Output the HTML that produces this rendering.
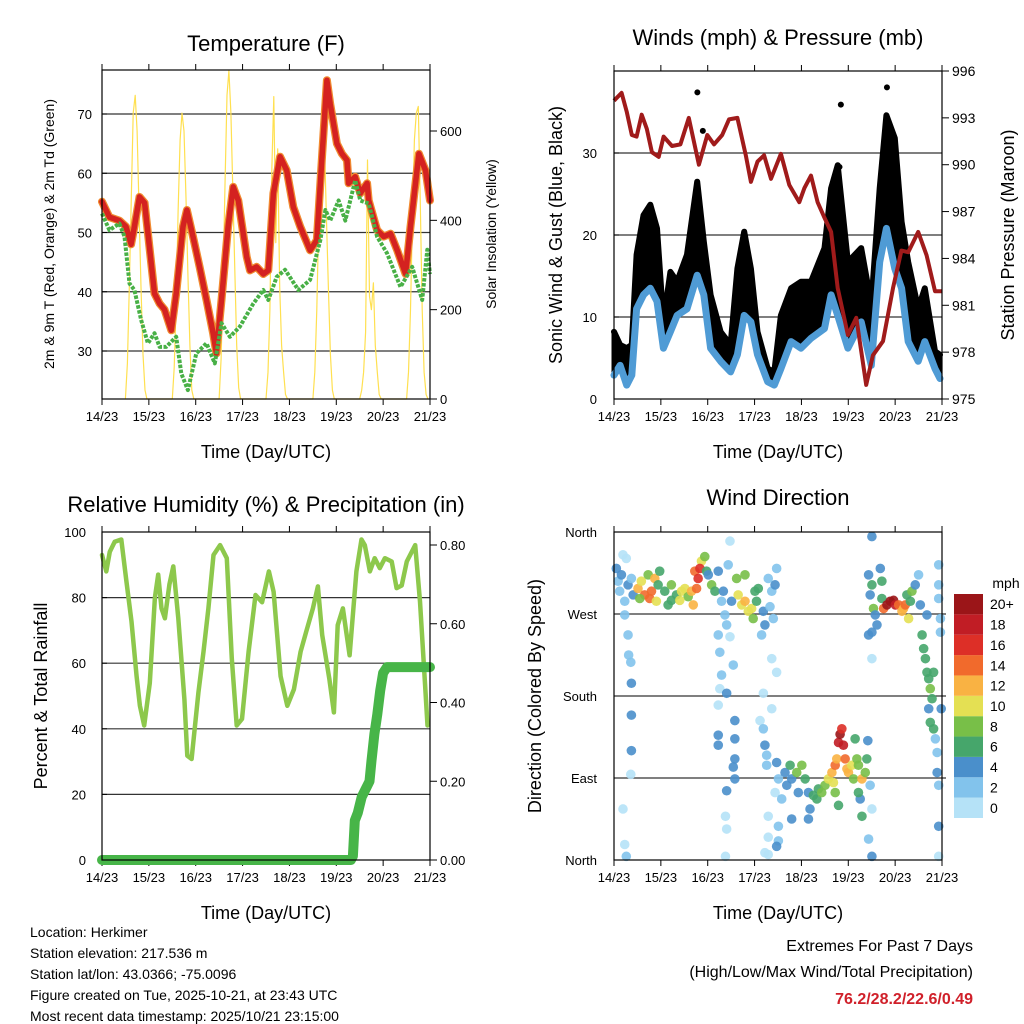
<!DOCTYPE html>
<html><head><meta charset="utf-8"><style>
html,body{margin:0;padding:0;background:#fff;}
svg{display:block;font-family:"Liberation Sans",sans-serif;}
</style></head><body>
<svg id="chart" width="1024" height="1024" viewBox="0 0 1024 1024" xmlns="http://www.w3.org/2000/svg">
<rect x="0" y="0" width="1024" height="1024" fill="#fff"/>
<g id="g"></g>
<text x="30" y="937" font-size="14">Location: Herkimer</text>
<text x="30" y="958" font-size="14">Station elevation: 217.536 m</text>
<text x="30" y="979" font-size="14">Station lat/lon: 43.0366; -75.0096</text>
<text x="30" y="1000" font-size="14">Figure created on Tue, 2025-10-21, at 23:43 UTC</text>
<text x="30" y="1021" font-size="14">Most recent data timestamp: 2025/10/21 23:15:00</text>
<text x="973" y="951" font-size="16" text-anchor="end">Extremes For Past 7 Days</text>
<text x="973" y="977" font-size="16" text-anchor="end">(High/Low/Max Wind/Total Precipitation)</text>
<text x="973" y="1004" font-size="16" font-weight="bold" fill="#d0202a" text-anchor="end">76.2/28.2/22.6/0.49</text>
</svg>
<script>
// ---------- data ----------
const dayLabels = ["14/23","15/23","16/23","17/23","18/23","19/23","20/23","21/23"];
const tempHours = [0,3.8,8.9,12.3,14.9,16.6,19.2,21.8,24.3,26.9,29.5,32,35.5,38,41.5,43.5,46.6,50,53.5,56.9,58.6,61.2,64.6,67.2,69.8,74.1,75.8,79.2,82.6,85.2,87.8,91.2,94.6,98,101.5,106.6,110,112.6,115.2,116.9,120.3,122.9,125.5,126.3,129.7,132.3,135.8,136.6,140.9,144.3,147.8,151.2,155.5,158,162.3,165.7,168];
const tempF = [55.2,52.6,52,51,48,51,56,55,47.6,39.7,38,37,33.5,39.7,51,53.8,49.3,44.2,38.6,33,29.6,38.6,51,57.7,55.4,45.9,43.6,44.2,43,43.6,56.6,62.8,60.5,54.3,51,47,48.7,62.2,75.7,71.7,65,63.3,62.2,58.3,59.4,56.6,58.3,55.4,50.4,49.3,49.8,47,43,51,63.3,60.5,55.4];
const dewHours = [0,3.8,8.9,11.5,14.1,16.6,20.1,23.5,26.9,29.5,32.9,38,40.6,44,48.3,53.5,57.8,61.2,65.5,70.6,77.5,82.6,85.2,89.5,93.8,100.6,106.6,111.8,114.4,116.9,121.2,124.6,129.7,132.3,136.6,140.9,146,152.9,158.9,164,166.6,168];
const dewF = [53.2,50.4,51.5,49.3,41.4,40.3,35.2,31.3,33,30.7,30.7,32.4,26.2,23.4,29.6,31.3,27.9,34.7,32.4,34.1,38,40.3,38.6,42.5,43.7,40.3,42,48.7,53.8,52,55.4,52,58.8,55.4,54.9,49.3,46.5,40.8,44.2,38.6,47.1,43];
const solarHours = [];
const solarDays = [
 [0,80,250,450,640,680,600,420,250,100,20,0],
 [0,70,220,420,580,640,600,450,280,120,20,0],
 [0,90,260,480,680,735,640,470,290,120,25,0],
 [0,60,200,520,677,350,560,250,120,60,10,0],
 [0,60,200,400,560,617,560,400,240,100,20,0],
 [0,20,60,150,535,230,200,260,120,60,10,0],
 [0,60,200,400,580,640,655,450,200,60,10,0]];
const windHours = [0,3.1,6.5,9.1,11.6,15.1,18.6,22,25.3,28.9,32.3,37.4,42.6,46,49.5,54.6,59.7,63.2,66.7,70.1,73.5,78.7,82.1,85.5,90.7,95.8,100.9,107.8,111.2,114.6,119.8,126.6,131.8,136.1,139.5,143.8,147.3,150.7,155.8,159.2,164.4,167]; 
const windMph = [2.9,4.1,1.7,2.9,11,12.7,13.5,11.9,6.2,8.2,10.2,11,15.1,12.7,6.2,4.6,3.3,5.4,10.2,9.4,5.4,2.1,1.7,3.7,7,6.2,7.4,8.6,12.7,10.2,6.2,9.4,4.1,16.7,20.8,15.9,13.5,7,4.6,7,3.7,2.5];
const gustMph = [8.2,6.6,6.2,6.6,17.6,22.4,23.7,20.8,9.4,15.5,14.3,17.6,26.5,19.2,12.7,8.2,6.6,15.9,20.4,15.9,8.2,3.7,3.3,10.2,13.5,14.3,14.3,18.4,25.7,28.5,16.7,18.4,11.5,25.7,34.6,31.8,21.6,16.7,11,13.5,5.8,5.4];
const gustOutlierHours = [42.7,45.5,116.2,139.8,115.5,141];
const gustOutlierMph = [37.4,32.7,35.9,38,28.3,33];
const presHours = [0,3.9,6.5,9.1,11.6,14.2,16.8,19.4,22.9,25.4,29.7,34,38.3,43.5,47.8,51.2,55.4,58.9,63.2,67.5,70.1,73.5,76.9,80.4,85.5,89.8,94.9,97.5,100.9,104.3,107.8,111.2,114.6,119.8,124.1,129.2,132.6,137.8,142.9,147.2,150.7,155.8,160.1,164.4,167.8];
const presMb = [994.1,994.6,993.4,991.9,991.8,993.2,992.3,990.8,990.5,991.8,991.2,991.3,993,990,991.9,991.3,991.9,992.9,993,990.6,988.9,990.2,990.6,989.1,990.7,988.7,987.6,988.5,989.3,987.6,986.6,985.7,982.1,979.1,980.2,975.9,977.8,978.7,982.1,984.5,984.4,985.7,984.2,981.9,981.9];
const rhHours = [0,2.2,4,6.5,9.9,12.5,15.1,17.7,19.4,21.6,24.5,27.1,28.8,30.5,32.2,34.5,36.5,39.1,42.2,43.7,45.9,49.4,52,54.5,57.1,60.5,63.9,66.5,69,71.7,75.1,78.6,82,85.5,87.9,91.5,94.9,98.3,101.7,104.6,108,110.6,112.8,116.4,118.8,120.7,123.4,126.8,130.3,132.9,134.6,137.2,139.7,142.3,144.9,148.4,150.9,153.5,156.1,160.4,162.9,165.5,166.7];
const rhPct = [93,88,94,97,97.7,85,72.7,56,47,41,54,80,87,76.7,73.7,84,89.5,73.7,49,31.8,30.8,51,63.5,76.7,93,96,92,61.4,41,43,63.5,80.8,78.6,88,81.8,56,47,52,63.5,69.6,76.7,83.4,68.6,55.3,45,71.6,76.7,62.4,88,97.7,96,88,92,89,92,91,82.9,83.7,91,96,78.8,53.3,41,56.3,76.7];
const precipHours = [0,127.5,128.5,129.5,131,133,135,137,138,139.5,141,142.5,144,146,168];
const precipIn = [0,0,0.01,0.1,0.12,0.16,0.18,0.2,0.25,0.32,0.37,0.43,0.475,0.49,0.49];
const dirHours = [1.2,2.1,2.9,3.8,4.6,5.5,6.3,7.2,8.9,9.8,5.5,7.2,7.5,8.6,8.9,8.9,8.9,8.6,4.6,5.5,6.3,
 12.3,14,15.7,17.5,19.2,20.9,18.3,22.6,23.4,13.2,21.7,
 26,27.7,29.4,32,34.6,36.3,38,29.4,33.7,
 39.7,41.4,43.1,44.8,46.5,42.3,44,40.6,47.4,48.3,
 50,51.7,53.4,55.1,56,56.8,57.7,58.5,59.4,60.2,53.4,54.2,55.1,54.2,57.7,53.4,53.4,53.4,61.9,61.9,61.9,61.9,61.1,57.7,57.1,57.7,57.1,61.1,59.4,
 63.6,65.4,67.1,68.8,70.5,72.2,73.9,62.8,67.1,71.3,73,
 76.5,77.3,79,79.9,80.8,81.6,82.5,83.3,75.6,80.8,83.3,76.5,80.8,74.8,76.5,77.3,78.2,78.2,83.3,79,79,77.3,79,84.2,83.3,
 82.5,84.2,85.9,87.6,88.5,90.2,91,93.6,94.4,96.2,97.9,99.6,100.4,102.1,103.9,104.7,106.4,108.1,109.8,111.6,112.4,113.3,114.1,113.3,115,115.8,116.7,117.5,118.4,119.3,120.1,121.8,122.7,123.5,124.4,125.2,127,128.7,129.5,130,126.1,127,131.2,132.1,130.4,132.1,125.2,115,91,99.6,84.2,
 130.4,131.2,132.1,132.9,133.8,134.7,132.1,130.4,136.4,137.2,137.2,138.1,139.8,141.5,143.2,144.1,145.8,147.5,148.3,149.2,150,150.9,151.8,152.6,154.3,156,156.9,132.1,132.1,
 157.8,158.6,159.5,160.3,161.2,162,162.9,163.7,161.2,162,163.7,164.6,165.5,165.5,166.3,166.3,166.3,166.3,167.2,167.2,167.6,160.3,166.3,166.3];
const dirDeg = [320,306,295,313,335,284,331,302,309,291,269,247,225,217,194,159,120,94,56,17,4,
 298,306,291,313,295,309,287,302,317,287,284,
 295,280,302,291,295,298,289,285,285,
 295,317,309,328,333,298,320,280,317,313,
 302,295,317,284,295,269,258,324,350,284,247,228,203,188,183,170,137,126,153,133,111,89,102,76,48,34,4,214,245,
 291,280,284,273,276,295,298,309,313,265,284,
 273,258,309,278,295,265,302,320,247,221,206,183,166,153,144,126,115,104,107,48,25,8,6,21,15,
 74,89,67,96,82,104,89,96,74,104,89,74,56,71,67,78,74,82,89,96,85,104,111,74,129,138,144,126,111,100,96,104,89,133,111,104,89,96,111,131,67,48,82,56,23,4,74,60,45,45,37,
 313,291,302,276,269,258,250,247,320,306,287,276,280,284,285,280,280,273,276,280,291,265,284,295,302,313,280,221,355,
 247,232,221,206,199,188,177,206,166,151,144,133,118,96,82,37,4,324,265,250,166,269,302,287];
const dirSpeed = [4,3,2,4,1,2,1,4,3,4,2,2,2,3,4,4,4,1,1,1,3,
 12,10,14,8,14,12,15,6,7,9,10,
 6,6,8,7,10,10,9,7,11,
 12,14,16,11,9,14,17,12,6,5,
 8,7,4,3,5,3,3,2,1,4,2,3,3,1,4,1,4,4,4,4,4,4,4,4,1,1,1,2,1,
 10,10,12,10,11,7,6,8,8,9,6,
 4,4,2,3,3,2,4,2,3,1,1,1,1,1,2,4,2,3,4,1,1,1,1,3,4,
 1,2,2,4,4,6,5,8,4,8,6,4,4,6,6,7,8,8,10,12,11,14,13,8,18,20,16,18,14,13,12,10,9,7,8,9,12,8,6,4,4,6,2,1,2,4,6,6,4,4,3,
 4,5,6,8,4,4,4,4,4,6,6,14,20,21,20,18,14,12,13,14,6,11,6,8,4,2,4,1,4,
 6,6,6,7,6,8,6,6,4,6,6,2,2,4,2,4,1,2,2,3,4,4,2,3];
const dirLabels = ["North","East","South","West","North"];
const speedBins = ["0","2","4","6","8","10","12","14","16","18","20+"];
const speedColors = ["#b5e2f7","#82c3ec","#4a8fcb","#46a66b","#78bf48","#e4e053","#f9b243","#f16a2c","#dd2f27","#c11d25","#9b1518"];
const tempTicks = [30,40,50,60,70];
const solarTicks = [0,200,400,600];
const windTicks = [0,10,20,30];
const presTicks = [975,978,981,984,987,990,993,996];
const rhTicks = [0,20,40,60,80,100];
const precipTicks = [0,0.2,0.4,0.6,0.8];

for (let d=0; d<solarDays.length; d++) for (let k=0;k<12;k++) solarHours.push(d*24+12+k);
const solarW = [].concat(...solarDays);

// ---------- helpers ----------
const NS="http://www.w3.org/2000/svg";
const root=document.getElementById('g');
function mk(tag, attrs, parent){const e=document.createElementNS(NS,tag);for(const k in attrs)e.setAttribute(k,attrs[k]);(parent||root).appendChild(e);return e;}
function lin(d0,d1,r0,r1){return v=>r0+(v-d0)/(d1-d0)*(r1-r0);}
function txt(x,y,s,size,anchor,rot){const t=mk('text',{x:x,y:y,'font-size':size,'text-anchor':anchor||'middle'});if(rot)t.setAttribute('transform','rotate(-90 '+x+' '+y+')');t.textContent=s;return t;}
function pathFrom(xs,ys,fx,fy){let p='';for(let i=0;i<xs.length;i++)p+=(i?'L':'M')+fx(xs[i]).toFixed(1)+' '+fy(ys[i]).toFixed(1);return p;}

function frame(P){
  const g=mk('g',{});
  
  
  const fx=lin(0,168,P.x0,P.x1);
  for(let i=0;i<dayLabels.length;i++){
    const x=fx(i*24);
    mk('line',{x1:x,y1:P.y1,x2:x,y2:P.y1+6,stroke:'#000','stroke-width':1},g);
    mk('line',{x1:x,y1:P.y0,x2:x,y2:P.y0-6,stroke:'#000','stroke-width':1},g);
    const t=txt(x,P.y1+22,dayLabels[i],13);
    
    
  }
  const xl=txt((P.x0+P.x1)/2,P.y1+59,'Time (Day/UTC)',18);
  
  
  return fx;
}
function box(P){
  const r=mk('rect',{x:P.x0,y:P.y0,width:P.x1-P.x0,height:P.y1-P.y0,fill:'none',stroke:'#000','stroke-width':1.2});
  
  
}
function grid(P,ticks,fy,lab,xLab){
  ticks.forEach(v=>{
    const y=fy(v);
    if(y>P.y0+1&&y<P.y1-1){const l=mk('line',{x1:P.x0,y1:y,x2:P.x1,y2:y,stroke:'#333','stroke-width':1.2});
      
      }
    mk('line',{x1:P.x0,y1:y,x2:P.x0+5,y2:y,stroke:'#000'});
    if(lab){const t=txt(xLab,y+5,lab(v),13,'end');
      
      }
  });
}
function rticks(P,ticks,fy,lab,xLab,size){
  ticks.forEach(v=>{const y=fy(v);
    mk('line',{x1:P.x1,y1:y,x2:P.x1+7,y2:y,stroke:'#000'});
    const t=txt(xLab,y+5,lab(v),size||13,'start');
    
    });
}

// ---------- Panel 1: Temperature ----------
(function(){
  const P={name:'temperature',x0:102,x1:430,y0:70,y1:399};
  const fx=frame(P);
  const fy=lin(30,70,351,114);
  const fs=lin(0,600,399,131);
  grid(P,tempTicks,fy,v=>String(v),92);
  rticks(P,solarTicks,fs,v=>String(v),440);
  const s=mk('path',{d:pathFrom(solarHours,solarW,fx,fs),fill:'none',stroke:'#ffe050','stroke-width':1.2,'stroke-linejoin':'round'});
  
  
  const o=mk('path',{d:pathFrom(tempHours,tempF,fx,fy),fill:'none',stroke:'#f08a30','stroke-width':8,'stroke-linejoin':'round','stroke-linecap':'round'});
  
  
  const r=mk('path',{d:pathFrom(tempHours,tempF,fx,fy),fill:'none',stroke:'#d42220','stroke-width':5.5,'stroke-linejoin':'round','stroke-linecap':'round'});
  
  
  const d=mk('path',{d:pathFrom(dewHours,dewF,fx,fy),fill:'none',stroke:'#48b046','stroke-width':4,'stroke-dasharray':'3.5 1.5','stroke-linejoin':'round'});
  
  
  box(P);
  const t=txt(266,51,'Temperature (F)',22);
  
  
  const yl=txt(54,234,'2m & 9m T (Red, Orange) & 2m Td (Green)',14,'middle',true);
  
  
  const yr=txt(496,234,'Solar Insolation (Yellow)',14,'middle',true);
  
  
})();

// ---------- Panel 2: Winds ----------
(function(){
  const P={name:'winds',x0:614,x1:942,y0:71,y1:399};
  const fx=frame(P);
  const fy=lin(0,40,399,71);
  const fp=lin(975,996,399,71);
  grid(P,windTicks,fy,v=>String(v),597);
  rticks(P,presTicks,fp,v=>String(v),952,14);
  let d=pathFrom(windHours,gustMph,fx,fy);
  for(let i=windHours.length-1;i>=0;i--)d+='L'+fx(windHours[i]).toFixed(1)+' '+fy(windMph[i]).toFixed(1);
  const band=mk('path',{d:d+'Z',fill:'#000',stroke:'#000','stroke-width':5,'stroke-linejoin':'round'});
  
  
  const gl=mk('path',{d:pathFrom(windHours,gustMph,fx,fy),fill:'none',stroke:'#000','stroke-width':6,'stroke-linejoin':'round','stroke-linecap':'round'});
  
  
  for(let i=0;i<gustOutlierHours.length;i++){
    const c=mk('circle',{cx:fx(gustOutlierHours[i]),cy:fy(gustOutlierMph[i]),r:3,fill:'#000'});
    
    
  }
  const w=mk('path',{d:pathFrom(windHours,windMph,fx,fy),fill:'none',stroke:'#4f9bd5','stroke-width':7,'stroke-linejoin':'round','stroke-linecap':'round'});
  
  
  const p=mk('path',{d:pathFrom(presHours,presMb,fx,fp),fill:'none',stroke:'#a01b1b','stroke-width':4,'stroke-linejoin':'round'});
  
  
  box(P);
  const t=txt(778,45,'Winds (mph) & Pressure (mb)',22);
  
  
  const yl=txt(562,235,'Sonic Wind & Gust (Blue, Black)',18,'middle',true);
  
  
  const yr=txt(1014,235,'Station Pressure (Maroon)',18,'middle',true);
  
  
})();

// ---------- Panel 3: RH & Precip ----------
(function(){
  const P={name:'humidity',x0:102,x1:430,y0:532,y1:860};
  const fx=frame(P);
  const fy=lin(0,100,860,532);
  const fp=lin(0,0.8,860,545);
  grid(P,rhTicks,fy,v=>String(v),86);
  rticks(P,precipTicks,fp,v=>v.toFixed(2),440);
  const r=mk('path',{d:pathFrom(rhHours,rhPct,fx,fy),fill:'none',stroke:'#8dc84c','stroke-width':4.5,'stroke-linejoin':'round','stroke-linecap':'round'});
  
  
  const p=mk('path',{d:pathFrom(precipHours,precipIn,fx,fp),fill:'none',stroke:'#47b548','stroke-width':10,'stroke-linejoin':'round','stroke-linecap':'round'});
  
  
  box(P);
  const t=txt(266,512,'Relative Humidity (%) & Precipitation (in)',22);
  
  
  const yl=txt(47,696,'Percent & Total Rainfall',18,'middle',true);
  
  
})();

// ---------- Panel 4: Wind direction ----------
(function(){
  const P={name:'direction',x0:614,x1:942,y0:532,y1:860};
  const fx=frame(P);
  const fy=lin(0,360,860,532);
  const dt=[0,90,180,270,360];
  dt.forEach((v,i)=>{const y=fy(v);
    if(y>P.y0+1&&y<P.y1-1){const l=mk('line',{x1:P.x0,y1:y,x2:P.x1+4,y2:y,stroke:'#333','stroke-width':1.2});
      
      }
    const t=txt(597,y+5,dirLabels[i],13,'end');
    
    });
  function col(s){let k=Math.min(10,Math.floor(s/2));return speedColors[k];}
  for(let i=0;i<dirHours.length;i++){
    const c=mk('circle',{cx:fx(Math.min(dirHours[i],167.7)),cy:fy(dirDeg[i]),r:4.8,fill:col(dirSpeed[i]),'fill-opacity':0.9});
    
    
  }
  box(P);
  const t=txt(778,505,'Wind Direction',22);
  
  
  const yl=txt(541,696,'Direction (Colored By Speed)',18,'middle',true);
  
  
  const cb=mk('g',{});
  
  
  const h=224/speedBins.length;
  for(let i=0;i<speedBins.length;i++){
    const y=818-(i+1)*h;
    mk('rect',{x:954,y:y,width:29,height:h,fill:speedColors[i]},cb);
    const l=txt(990,y+h/2+5,speedBins[i],14,'start');
    
    
  }
  const m=txt(1006,588,'mph',14);
  
  
})();
</script>
</body></html>
